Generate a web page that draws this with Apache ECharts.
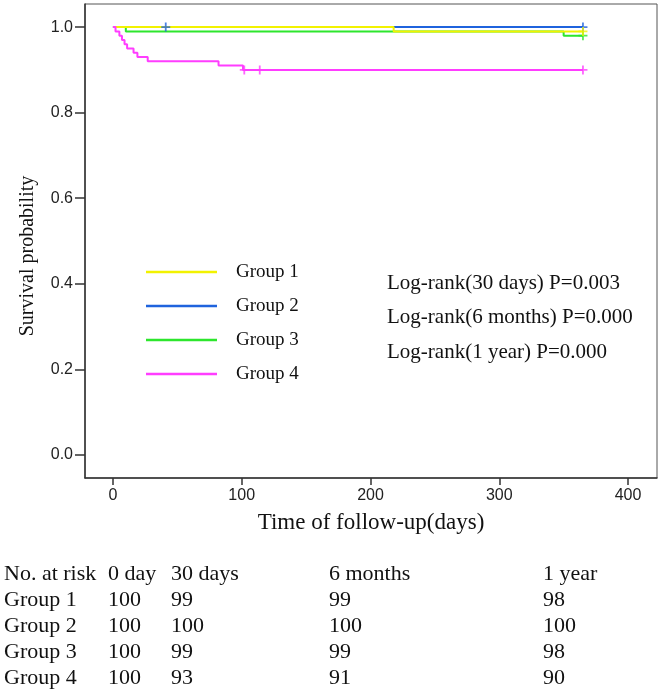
<!DOCTYPE html>
<html>
<head>
<meta charset="utf-8">
<script src="https://cdn.jsdelivr.net/npm/echarts@6/dist/echarts.min.js"></script>
<style>html,body{margin:0;padding:0;background:#fff}#c{width:660px;height:695px}</style>
</head>
<body>
<div id="c"></div>
<script>
// ---- data ----
const groupNames = ['Group 1', 'Group 2', 'Group 3', 'Group 4'];
const group1 = [[0, 1.0], [218, 0.99], [365, 0.99]];
const group2 = [[0, 1.0], [365, 1.0]];
const group3 = [[0, 1.0], [10, 0.99], [350, 0.98], [365, 0.98]];
const group4 = [[0, 1.0], [2, 0.99], [5, 0.98], [7, 0.97], [9, 0.96], [11, 0.95], [16, 0.94], [19, 0.93], [27, 0.92], [82, 0.91], [101, 0.90], [365, 0.90]];
const censor1 = [[365, 0.99]];
const censor2 = [[41, 1.0], [365, 1.0]];
const censor3 = [[365, 0.98]];
const censor4 = [[102, 0.90], [114, 0.90], [365, 0.90]];
const xTicks = [0, 100, 200, 300, 400];
const yTicks = [0, 0.2, 0.4, 0.6, 0.8, 1.0];
const logRankTexts = ['Log-rank(30 days) P=0.003', 'Log-rank(6 months) P=0.000', 'Log-rank(1 year) P=0.000'];
const riskHeader = ['No. at risk', '0 day', '30 days', '6 months', '1 year'];
const riskGroup1 = [100, 99, 99, 98];
const riskGroup2 = [100, 100, 100, 100];
const riskGroup3 = [100, 99, 99, 98];
const riskGroup4 = [100, 93, 91, 90];

const colors = ['#f2f200', '#1f63dd', '#2de62d', '#ff3dff'];
const serif = "'Liberation Serif','Times New Roman',serif";
const sans = "'Liberation Sans',Arial,sans-serif";

const curves = [group1, group2, group3, group4];
const censors = [censor1, censor2, censor3, censor4];
const drawOrder = [1, 2, 0, 3];
const crossPath = 'path://M4,0h2v10h-2z M0,4h10v2h-10z';

const series = [];
drawOrder.forEach(function (i, k) {
  series.push({
    name: groupNames[i], type: 'line', step: 'end', data: curves[i],
    showSymbol: false, symbol: 'none', color: colors[i],
    lineStyle: { width: 2, color: colors[i] }, z: 2 + k, silent: true
  });
});
drawOrder.forEach(function (i, k) {
  series.push({
    name: groupNames[i], type: 'scatter', data: censors[i], symbol: crossPath,
    symbolSize: 9, itemStyle: { color: colors[i] }, z: 10 + k, silent: true
  });
});

// risk table graphics
const riskRows = [riskGroup1, riskGroup2, riskGroup3, riskGroup4];
const colX = [4, 108, 171, 329, 543];
const rowY = [574, 600, 626, 652, 678];
const graphics = [];
riskHeader.forEach(function (t, c) {
  graphics.push({ type: 'text', left: colX[c], top: rowY[0] - 11, style: { text: t, font: '22px ' + serif, fill: '#111' } });
});
riskRows.forEach(function (row, r) {
  graphics.push({ type: 'text', left: colX[0], top: rowY[r + 1] - 11, style: { text: groupNames[r], font: '22px ' + serif, fill: '#111' } });
  row.forEach(function (v, c) {
    graphics.push({ type: 'text', left: colX[c + 1], top: rowY[r + 1] - 11, style: { text: String(v), font: '22px ' + serif, fill: '#111' } });
  });
});
const lrY = [284, 318, 353];
logRankTexts.forEach(function (t, i) {
  graphics.push({ type: 'text', left: 387, top: lrY[i] - 11, style: { text: t, font: '21px ' + serif, fill: '#111' } });
});
graphics.push({
  type: 'text', x: 28, y: 256, rotation: Math.PI / 2,
  style: { text: 'Survival probability', font: '20px ' + serif, fill: '#111', align: 'center', verticalAlign: 'middle' }
});

const chart = echarts.init(document.getElementById('c'), null, { renderer: 'canvas' });
chart.setOption({
  animation: false,
  backgroundColor: '#fff',
  grid: { left: 85, top: 4, right: 3, bottom: 217, show: true, borderColor: '#555', borderWidth: 1, backgroundColor: 'transparent' },
  legend: {
    data: groupNames, orient: 'vertical', left: 141, top: 257, icon: 'rect',
    itemWidth: 71, itemHeight: 2.5, itemGap: 14,
    textStyle: { fontFamily: serif, fontSize: 19, color: '#111', lineHeight: 20, padding: [0, 0, 0, 14] },
    selectedMode: false
  },
  xAxis: {
    type: 'value', min: -21.7, max: 422.5,
    name: 'Time of follow-up(days)', nameLocation: 'middle', nameGap: 33,
    nameTextStyle: { fontFamily: serif, fontSize: 23, color: '#111' },
    axisLine: { show: true, onZero: false, lineStyle: { color: '#333', width: 1.5 } },
    axisTick: { show: true, length: 7, customValues: xTicks, lineStyle: { color: '#333', width: 1.5 } },
    axisLabel: { customValues: xTicks, margin: 10, fontFamily: sans, fontSize: 16, color: '#222' },
    splitLine: { show: false }
  },
  yAxis: {
    type: 'value', min: -0.054, max: 1.054,
    axisLine: { show: true, onZero: false, lineStyle: { color: '#333', width: 1.5 } },
    axisTick: { show: true, length: 10, customValues: yTicks, lineStyle: { color: '#333', width: 1.5 } },
    axisLabel: { customValues: yTicks, margin: 12, fontFamily: sans, fontSize: 16, color: '#222', formatter: function (v) { return v.toFixed(1); } },
    splitLine: { show: false }
  },
  graphic: graphics,
  series: series
});
</script>
</body>
</html>
